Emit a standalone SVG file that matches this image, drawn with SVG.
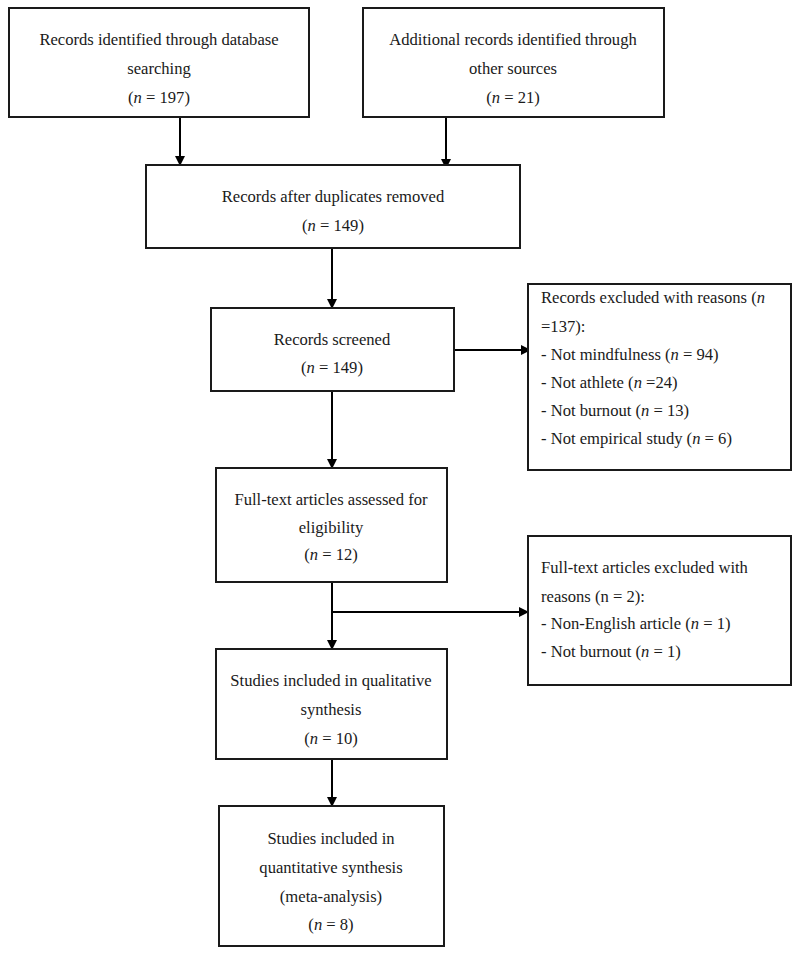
<svg xmlns="http://www.w3.org/2000/svg" width="798" height="957" viewBox="0 0 798 957">
<style>
.box{fill:#fff;stroke:#1a1a1a;stroke-width:2}
text{font-family:"Liberation Serif","Times New Roman",serif;font-size:16.6px;fill:#1a1a1a}
.c{text-anchor:middle}
.i{font-style:italic}
.ln{stroke:#000;stroke-width:2;fill:none}
</style>
<defs>
<marker id="ah" markerWidth="10" markerHeight="10" refX="9" refY="5" orient="auto" markerUnits="userSpaceOnUse">
<path d="M0,0 L10,5 L0,10 z" fill="#000"/>
</marker>
</defs>
<rect width="798" height="957" fill="#fff"/>
<g id="connectors">
<line class="ln" x1="180" y1="118" x2="180" y2="165" marker-end="url(#ah)"/>
<line class="ln" x1="446" y1="118" x2="446" y2="168" marker-end="url(#ah)"/>
<line class="ln" x1="332" y1="248" x2="332" y2="308" marker-end="url(#ah)"/>
<line class="ln" x1="454" y1="350" x2="530" y2="350" marker-end="url(#ah)"/>
<line class="ln" x1="332" y1="391" x2="332" y2="468" marker-end="url(#ah)"/>
<line class="ln" x1="332" y1="582" x2="332" y2="649" marker-end="url(#ah)"/>
<line class="ln" x1="332" y1="612" x2="528" y2="612" marker-end="url(#ah)"/>
<line class="ln" x1="332" y1="759" x2="332" y2="806" marker-end="url(#ah)"/>
</g>
<g id="n1">
<rect class="box" x="9" y="8" width="300" height="109"/>
<text class="c" x="159" y="45">Records identified through database</text>
<text class="c" x="159" y="74">searching</text>
<text class="c" x="159" y="103">(<tspan class="i">n</tspan> = 197)</text>
</g>
<g id="n2">
<rect class="box" x="363" y="8" width="301" height="109"/>
<text class="c" x="513" y="45">Additional records identified through</text>
<text class="c" x="513" y="74">other sources</text>
<text class="c" x="513" y="103">(<tspan class="i">n</tspan> = 21)</text>
</g>
<g id="n3">
<rect class="box" x="146" y="165" width="374" height="83"/>
<text class="c" x="333" y="202">Records after duplicates removed</text>
<text class="c" x="333" y="231">(<tspan class="i">n</tspan> = 149)</text>
</g>
<g id="n4">
<rect class="box" x="211" y="308" width="243" height="83"/>
<text class="c" x="332" y="345">Records screened</text>
<text class="c" x="332" y="373">(<tspan class="i">n</tspan> = 149)</text>
</g>
<g id="n5">
<rect class="box" x="528" y="284" width="263" height="186"/>
<text x="541" y="303">Records excluded with reasons (<tspan class="i">n</tspan></text>
<text x="541" y="332">=137):</text>
<text x="541" y="360">- Not mindfulness (<tspan class="i">n</tspan> = 94)</text>
<text x="541" y="388">- Not athlete (<tspan class="i">n</tspan> =24)</text>
<text x="541" y="416">- Not burnout (<tspan class="i">n</tspan> = 13)</text>
<text x="541" y="444">- Not empirical study (<tspan class="i">n</tspan> = 6)</text>
</g>
<g id="n6">
<rect class="box" x="216" y="468" width="231" height="114"/>
<text class="c" x="331" y="505">Full-text articles assessed for</text>
<text class="c" x="331" y="533">eligibility</text>
<text class="c" x="331" y="560">(<tspan class="i">n</tspan> = 12)</text>
</g>
<g id="n7">
<rect class="box" x="528" y="536" width="263" height="149"/>
<text x="541" y="573">Full-text articles excluded with</text>
<text x="541" y="602">reasons (n = 2):</text>
<text x="541" y="629">- Non-English article (<tspan class="i">n</tspan> = 1)</text>
<text x="541" y="657">- Not burnout (<tspan class="i">n</tspan> = 1)</text>
</g>
<g id="n8">
<rect class="box" x="216" y="649" width="231" height="110"/>
<text class="c" x="331" y="686">Studies included in qualitative</text>
<text class="c" x="331" y="715">synthesis</text>
<text class="c" x="331" y="744">(<tspan class="i">n</tspan> = 10)</text>
</g>
<g id="n9">
<rect class="box" x="219" y="806" width="225" height="140"/>
<text class="c" x="331" y="844">Studies included in</text>
<text class="c" x="331" y="873">quantitative synthesis</text>
<text class="c" x="331" y="902">(meta-analysis)</text>
<text class="c" x="331" y="930">(<tspan class="i">n</tspan> = 8)</text>
</g>
</svg>
